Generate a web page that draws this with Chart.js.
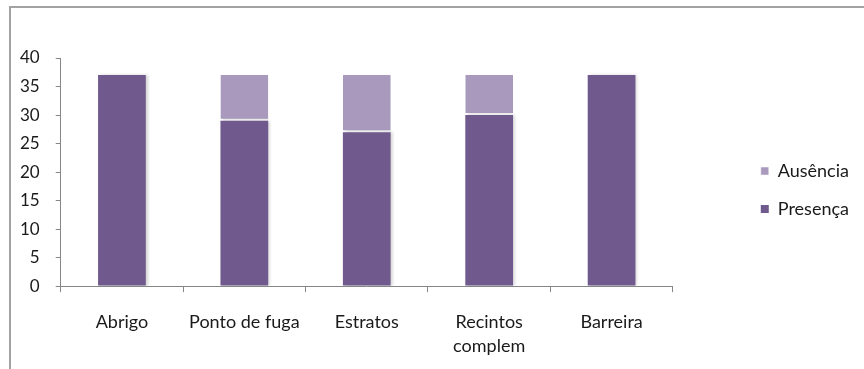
<!DOCTYPE html>
<html>
<head>
<meta charset="utf-8">
<script src="https://cdn.jsdelivr.net/npm/chart.js@4/dist/chart.umd.min.js"></script>
<style>
  html, body { margin: 0; padding: 0; background: #fff; overflow: hidden; }
  canvas { display: block; }
</style>
</head>
<body>
<canvas id="chart" width="864" height="369"></canvas>
<script>
const categories = ['Abrigo', 'Ponto de fuga', 'Estratos', ['Recintos', 'complem'], 'Barreira'];
const presenca = [37, 29, 27, 30, 37];
const ausencia = [0, 8, 10, 7, 0];
const yTicks = [0, 5, 10, 15, 20, 25, 30, 35, 40];

// grey frame on the left and top edges, as in the original
const frame = {
    id: 'frame',
    beforeDraw(chart) {
        const ctx = chart.ctx;
        ctx.save();
        ctx.strokeStyle = '#a3a3a3';
        ctx.lineWidth = 2;
        ctx.beginPath();
        ctx.moveTo(10, chart.height);
        ctx.lineTo(10, 7);
        ctx.lineTo(chart.width, 7);
        ctx.stroke();
        ctx.restore();
    }
};

const barShadow = {
    id: 'barShadow',
    beforeDatasetsDraw(chart) {
        const ctx = chart.ctx;
        ctx.save();
        ctx.shadowColor = 'rgba(0,0,0,0.18)';
        ctx.shadowOffsetX = 2;
        ctx.shadowOffsetY = 0;
        ctx.shadowBlur = 3;
    },
    afterDatasetsDraw(chart) {
        chart.ctx.restore();
    }
};

const textColor = '#1a1a1a';
const axisColor = '#868686';

new Chart(document.getElementById('chart'), {
    type: 'bar',
    data: {
        labels: categories,
        datasets: [{
            label: 'Presença',
            data: presenca,
            backgroundColor: '#705a8d',
            borderWidth: 0,
            barPercentage: 0.39,
            categoryPercentage: 1.0
        }, {
            label: 'Ausência',
            data: ausencia,
            backgroundColor: '#a99abd',
            borderColor: '#ffffff',
            borderWidth: { top: 0, left: 0, right: 0, bottom: 2 },
            borderSkipped: false,
            barPercentage: 0.39,
            categoryPercentage: 1.0
        }]
    },
    options: {
        responsive: false,
        animation: false,
        devicePixelRatio: 1,
        layout: { padding: { top: 58, left: 4, right: 5, bottom: -7 } },
        plugins: {
            tooltip: { enabled: false },
            legend: {
                position: 'right',
                fullSize: false,
                reverse: true,
                // empty title just pushes the two items a bit lower
                title: {
                    display: true,
                    text: ' ',
                    font: { size: 10, lineHeight: 1.2 },
                    padding: { top: 12, bottom: 12 }
                },
                labels: {
                    font: { family: 'Lato', size: 18 },
                    color: textColor,
                    boxWidth: 8,
                    boxHeight: 8,
                    padding: 20
                }
            }
        },
        scales: {
            x: {
                stacked: true,
                grid: {
                    display: true,
                    drawOnChartArea: false,
                    offset: true,
                    tickLength: 6,
                    color: axisColor
                },
                border: { color: axisColor, width: 1 },
                ticks: {
                    font: { family: 'Lato', size: 18, lineHeight: 1.33 },
                    color: textColor,
                    padding: 18,
                    maxRotation: 0,
                    autoSkip: false
                }
            },
            y: {
                stacked: true,
                min: 0,
                max: 40,
                afterBuildTicks(scale) {
                    scale.ticks = yTicks.map(v => ({ value: v }));
                },
                grid: {
                    display: true,
                    drawOnChartArea: false,
                    tickLength: 5,
                    color: axisColor
                },
                border: { color: axisColor, width: 1 },
                ticks: {
                    font: { family: 'Lato', size: 17 },
                    color: textColor,
                    padding: 16
                }
            },
            gap: {
                axis: 'y',
                position: 'right',
                display: true,
                grid: { display: false },
                border: { display: false },
                ticks: { display: false },
                afterFit(scale) { scale.width = 68; }
            }
        }
    },
    plugins: [frame, barShadow]
});
</script>
</body>
</html>
